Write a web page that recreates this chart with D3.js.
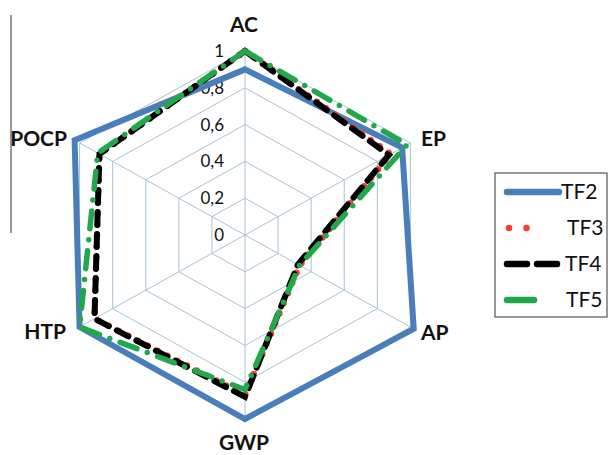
<!DOCTYPE html>
<html><head><meta charset="utf-8">
<script src="https://cdn.jsdelivr.net/npm/d3@7"></script>
<style>body{margin:0;background:#fff;}svg{display:block;}</style>
</head><body>
<svg id="c" width="608" height="455"></svg>
<script>
const axes = ["AC","EP","AP","GWP","HTP","POCP"];
const tickValues = [0,0.2,0.4,0.6,0.8,1];
const tickLabels = ["0","0,2","0,4","0,6","0,8","1"];
const seriesNames = ["TF2","TF3","TF4","TF5"];
const tf2 = [0.90,0.95,1.02,1.00,1.00,1.03];
const tf3 = [1.00,0.88,0.33,0.87,0.91,0.88];
const tf4 = [1.00,0.87,0.32,0.88,0.91,0.88];
const tf5 = [1.00,0.98,0.33,0.84,1.00,0.89];
const seriesValues = [tf2,tf3,tf4,tf5];

const svg = d3.select("#c");
const cx = 245, cy = 235, ry = 184, rx = 191;
const rScale = d3.scaleLinear().domain([0,1]).range([0,1]);
const angOf = i => (90 - i*60) * Math.PI/180;
const px = (i,v) => cx + rx*rScale(v)*Math.cos(angOf(i));
const py = (i,v) => cy - ry*rScale(v)*Math.sin(angOf(i));

svg.append("line").attr("x1",11).attr("x2",11).attr("y1",15).attr("y2",233)
  .attr("stroke","#777").attr("stroke-width",1.5);

const grid = svg.append("g");
tickValues.filter(t=>t>0).forEach(t=>{
  grid.append("path")
    .attr("d", d3.line().x((d,i)=>px(i,t)).y((d,i)=>py(i,t)).curve(d3.curveLinearClosed)(axes))
    .attr("fill","none").attr("stroke","#a9c2d3").attr("stroke-width",1);
});
axes.forEach((a,i)=>{
  grid.append("line").attr("x1",cx).attr("y1",cy).attr("x2",px(i,1)).attr("y2",py(i,1))
    .attr("stroke","#a9c2d3").attr("stroke-width",1);
});

svg.append("g").selectAll("text").data(tickValues).join("text")
  .attr("x",224).attr("y",d=>cy - ry*rScale(d)+6)
  .attr("text-anchor","end").attr("font-family","Lato, 'Open Sans', sans-serif")
  .attr("font-size",17).attr("fill","#111").text((d,i)=>tickLabels[i]);

const labelPos = {AC:[244,32,"middle"],EP:[421,146,"start"],AP:[421,340,"start"],GWP:[244,450,"middle"],HTP:[66,339,"end"],POCP:[67,146,"end"]};
svg.append("g").selectAll("text").data(axes).join("text")
  .attr("x",d=>labelPos[d][0]).attr("y",d=>labelPos[d][1]).attr("text-anchor",d=>labelPos[d][2])
  .attr("font-family","Lato, 'Open Sans', sans-serif").attr("font-weight","bold")
  .attr("font-size",21).attr("fill","#111").text(d=>d);

const styles = [
  {color:"#4a7ebb", width:6, dash:null, cap:"butt"},
  {color:"#ff3b30", width:6.5, dash:"0 11", cap:"round"},
  {color:"#000000", width:6, dash:"13 9", cap:"round"},
  {color:"#22a84a", width:5.5, dash:"18 11 0 11", cap:"round"}
];
const lineGen = d3.line().x(d=>px(d.i,d.v)).y(d=>py(d.i,d.v)).curve(d3.curveLinearClosed);
seriesValues.forEach((vals,s)=>{
  const st = styles[s];
  svg.append("path").attr("d", lineGen(vals.map((v,i)=>({i,v}))))
    .attr("fill","none").attr("stroke",st.color).attr("stroke-width",st.width)
    .attr("stroke-linecap",st.cap).attr("stroke-linejoin","miter")
    .attr("stroke-dasharray",st.dash);
});

const lg = svg.append("g");
lg.append("rect").attr("x",495).attr("y",173).attr("width",112).attr("height",144)
  .attr("fill","#fff").attr("stroke","#555").attr("stroke-width",1.2);
const legY = [192,228,264,300];
const legX = [561,567,565,566];
seriesNames.forEach((n,s)=>{
  const st = styles[s];
  let x1=507, x2=559;
  let dash = st.dash;
  if (s===1){ x1=509; x2=544; dash="0 17.5"; }
  if (s===2){ dash="20 10"; x2=557; }
  if (s===3){ x2=534; dash=null; }
  lg.append("line").attr("x1",x1).attr("x2",x2).attr("y1",legY[s]).attr("y2",legY[s])
    .attr("stroke",st.color).attr("stroke-width",6.5).attr("stroke-linecap",s===0?"round":st.cap)
    .attr("stroke-dasharray",dash);
  lg.append("text").attr("x",legX[s]).attr("y",legY[s]+7)
    .attr("font-family","Lato, 'Open Sans', sans-serif").attr("font-size",21).attr("fill","#111").text(n);
});
</script>
</body></html>
